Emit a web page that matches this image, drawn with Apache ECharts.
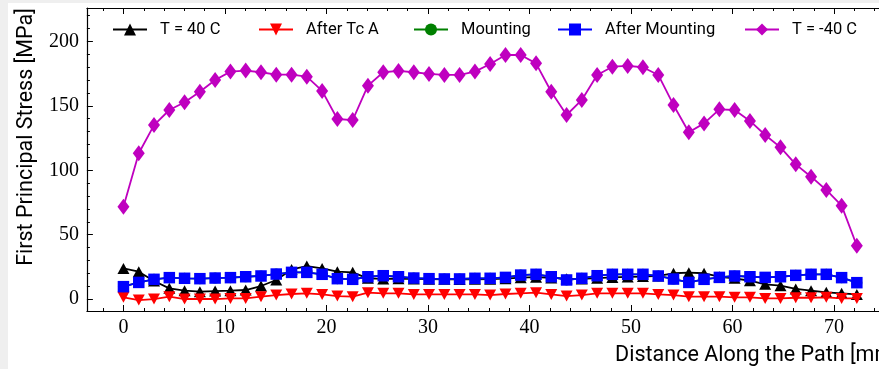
<!DOCTYPE html>
<html><head><meta charset="utf-8">
<script src="https://cdn.jsdelivr.net/npm/echarts@6/dist/echarts.min.js"></script>
<style>
html,body{margin:0;padding:0;background:#efefef;overflow:hidden;width:879px;height:369px}
#c{position:absolute;left:8px;top:3px;width:900px;height:366px;background:#fff}
</style></head><body><div id="c"></div>
<script>
const distance = [0, 1.51, 3.01, 4.52, 6.02, 7.53, 9.03, 10.54, 12.04, 13.55, 15.05, 16.56, 18.06, 19.57, 21.07, 22.58, 24.08, 25.59, 27.09, 28.6, 30.1, 31.61, 33.11, 34.62, 36.12, 37.63, 39.13, 40.64, 42.14, 43.65, 45.15, 46.66, 48.16, 49.67, 51.17, 52.68, 54.18, 55.69, 57.19, 58.7, 60.2, 61.71, 63.21, 64.72, 66.22, 67.73, 69.23, 70.74, 72.24];
const tempHot = [23.8, 21.2, 14.0, 8.3, 6.5, 5.7, 6.2, 6.5, 7.0, 10.1, 14.8, 23.0, 25.6, 23.8, 21.2, 20.7, 16.1, 15.6, 15.8, 15.6, 15.4, 15.3, 15.2, 15.3, 15.4, 15.8, 16.6, 17.0, 16.4, 15.8, 15.6, 16.2, 16.8, 17.2, 17.4, 17.9, 20.0, 20.5, 20.0, 17.3, 16.1, 14.2, 11.4, 10.4, 7.8, 6.5, 5.2, 4.4, 3.6];
const afterTcA = [1.3, -0.8, 0.0, 1.8, 0.0, 0.0, 0.0, 0.5, 0.5, 1.8, 3.1, 3.9, 4.4, 3.6, 2.3, 1.8, 4.9, 4.4, 4.4, 3.6, 3.6, 3.6, 3.6, 3.6, 3.1, 3.9, 4.4, 4.9, 3.6, 2.3, 3.1, 4.4, 4.4, 4.4, 4.4, 3.6, 3.1, 1.8, 1.8, 1.8, 1.3, 1.3, 0.5, 0.5, 1.0, 1.0, 1.3, 0.5, 0.5];
const mounting = [9.6, 12.9, 15.3, 16.6, 16.1, 15.8, 16.3, 16.6, 17.3, 17.9, 19.4, 20.7, 20.7, 19.2, 15.8, 15.3, 17.3, 18.1, 17.3, 16.3, 15.8, 15.6, 15.6, 16.1, 16.1, 16.8, 18.6, 19.2, 17.3, 14.8, 16.1, 18.1, 19.2, 19.2, 19.2, 17.9, 15.5, 12.9, 15.3, 16.8, 17.9, 17.3, 16.8, 17.3, 18.4, 19.2, 19.2, 16.6, 12.7];
const afterMounting = [9.6, 12.9, 15.3, 16.6, 16.1, 15.8, 16.3, 16.6, 17.3, 17.9, 19.4, 20.7, 20.7, 19.2, 15.8, 15.3, 17.3, 18.1, 17.3, 16.3, 15.8, 15.6, 15.6, 16.1, 16.1, 16.8, 18.6, 19.2, 17.3, 14.8, 16.1, 18.1, 19.2, 19.2, 19.2, 17.9, 15.5, 12.9, 15.3, 16.8, 17.9, 17.3, 16.8, 17.3, 18.4, 19.2, 19.2, 16.6, 12.7];
const tempCold = [71.7, 113.2, 135.1, 146.8, 152.8, 161.0, 170.1, 176.6, 177.4, 176.1, 174.2, 174.2, 172.7, 161.6, 139.8, 139.0, 165.7, 176.1, 177.1, 176.1, 174.8, 174.0, 174.0, 176.6, 182.5, 189.5, 189.5, 183.0, 161.0, 142.9, 154.6, 174.0, 180.4, 181.0, 180.0, 174.0, 150.7, 129.5, 136.4, 147.3, 146.8, 138.3, 127.4, 117.8, 104.6, 95.0, 84.7, 72.5, 41.4];
const seriesNames = ['T = 40 C', 'After Tc A', 'Mounting', 'After Mounting', 'T = -40 C'];
const xTickLabels = [0, 10, 20, 30, 40, 50, 60, 70];
const yTickLabels = [0, 50, 100, 150, 200];
const xMinorTicks = [-2, 2, 4, 6, 8, 12, 14, 16, 18, 22, 24, 26, 28, 32, 34, 36, 38, 42, 44, 46, 48, 52, 54, 56, 58, 62, 64, 66, 68, 72, 74];
const yMinorTicks = [10, 20, 30, 40, 60, 70, 80, 90, 110, 120, 130, 140, 160, 170, 180, 190, 210, 220];
const xTitle = 'Distance Along the Path [mm]';
const yTitle = 'First Principal Stress [MPa]';

const X_MIN = -3.6, X_MAX = 75.9, Y_MIN = -9.3, Y_MAX = 226;
const SANS = 'Roboto', SERIF = 'Liberation Serif';
function pairs(ys) { return distance.map((x, i) => [x, ys[i]]); }

const chart = echarts.init(document.getElementById('c'), null, {renderer: 'canvas'});
const lineAx = {show: true, onZero: false, lineStyle: {color: '#000', width: 1.2}};
function xAx(pos, major, labels, extra) {
  return Object.assign({
    type: 'value', position: pos, min: X_MIN, max: X_MAX,
    axisLine: major ? lineAx : {show: false, onZero: false},
    axisTick: {show: true, inside: true, length: major ? 6 : 3, lineStyle: {color: '#000', width: 1},
      customValues: major ? xTickLabels : xMinorTicks},
    axisLabel: labels ? {show: true, customValues: xTickLabels, color: '#000', fontFamily: SERIF, fontSize: 20, margin: 7} : {show: false},
    splitLine: {show: false}, minorTick: {show: false}
  }, extra || {});
}
function yAx(pos, major, labels, extra) {
  return Object.assign({
    type: 'value', position: pos, min: Y_MIN, max: Y_MAX,
    axisLine: major ? lineAx : {show: false, onZero: false},
    axisTick: {show: true, inside: true, length: major ? 6 : 3, lineStyle: {color: '#000', width: 1},
      customValues: major ? yTickLabels : yMinorTicks},
    axisLabel: labels ? {show: true, customValues: yTickLabels, color: '#000', fontFamily: SERIF, fontSize: 20, margin: 8} : {show: false},
    splitLine: {show: false}, minorTick: {show: false}
  }, extra || {});
}

const colors = ['#000000', '#ff0000', '#008000', '#0000ff', '#bf00bf'];
const symbols = ['triangle', 'path://M0,0 L10,0 L5,10 Z', 'circle', 'rect', 'diamond'];
const sizes = [[12, 11], [12, 11], 11, 11.5, [12, 16]];
const values = [tempHot, afterTcA, mounting, afterMounting, tempCold];
const legendLeft = [104, 250, 405, 549, 736];

const series = values.map((v, k) => ({
  name: seriesNames[k], type: 'line', xAxisIndex: 0, yAxisIndex: 0,
  data: pairs(v), symbol: symbols[k], symbolSize: sizes[k], showSymbol: true,
  lineStyle: {color: colors[k], width: 1.8}, itemStyle: {color: colors[k]},
  emphasis: {disabled: true}, animation: false, z: 2 + k
}));

const legends = seriesNames.map((n, k) => ({
  data: [n], left: legendLeft[k], top: 18, padding: 0, itemWidth: 34, itemHeight: 15,
  selectedMode: false,
  textStyle: {fontFamily: SANS, fontSize: 16.5, color: '#000', padding: [0, 0, 0, 8]}
}));

chart.setOption({
  animation: false,
  backgroundColor: '#fff',
  grid: {left: 77, top: 5, right: 14, bottom: 58, containLabel: false},
  legend: legends,
  xAxis: [
    xAx('bottom', true, true, {name: xTitle, nameLocation: 'end', nameGap: 5,
      nameTextStyle: {fontFamily: SANS, fontSize: 21.5, color: '#000', align: 'right', verticalAlign: 'top', padding: [34, 0, 0, 0]}}),
    xAx('bottom', false, false),
    xAx('top', true, false),
    xAx('top', false, false)
  ],
  yAxis: [
    yAx('left', true, true, {name: yTitle, nameLocation: 'middle', nameGap: 48,
      nameTextStyle: {fontFamily: SANS, fontSize: 21.5, color: '#000', padding: [0, 0, 0, 45]}}),
    yAx('left', false, false)
  ],
  series: series
});
</script></body></html>
